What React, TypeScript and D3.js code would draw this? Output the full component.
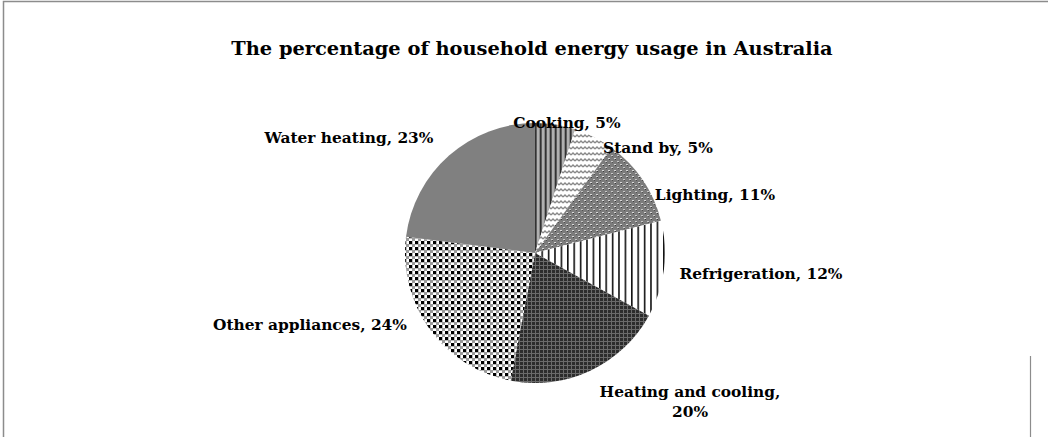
import React from "react";
import * as d3 from "d3";

const title = "The percentage of household energy usage in Australia";
const categories = ["Cooking", "Stand by", "Lighting", "Refrigeration", "Heating and cooling", "Other appliances", "Water heating"];
const values = [5, 5, 11, 12, 20, 24, 23];
const patternIds = ["pCook", "pStand", "pLight", "pFridge", "pHeat", "pOther", "pWater"];
// label centre offsets relative to pie centre (layout only)
const labelOffsets: [number, number][] = [
  [32, -131], [123, -106], [180, -59], [226, 20], [155, 149], [-225, 71], [-186, -116],
];

const W = 1048;
const H = 437;
const cx = 535;
const cy = 253;
const R = 130;

export default function App() {
  const pie = d3.pie<number>().sort(null).startAngle(0).endAngle(2 * Math.PI)(values);
  const arc = d3.arc<d3.PieArcDatum<number>>().innerRadius(0).outerRadius(R);
  const font = "'DejaVu Serif', serif";
  const fs = 15.4;
  return (
    <svg width={W} height={H} style={{ position: "absolute", left: 0, top: 0 }}>
      <defs>
        <pattern id="pCook" width={5} height={5} patternUnits="userSpaceOnUse">
          <rect width={5} height={5} fill="#888" />
          <rect x={0} width={1.5} height={5} fill="#333" />
          <rect x={2.5} width={1} height={5} fill="#d8d8d8" />
        </pattern>
        <pattern id="pStand" width={4} height={6} patternUnits="userSpaceOnUse">
          <rect width={4} height={6} fill="#fff" />
          <path d="M0,4 L2,2 L4,4" stroke="#888" strokeWidth={1.3} fill="none" />
        </pattern>
        <pattern id="pLight" width={6} height={6} patternUnits="userSpaceOnUse">
          <rect width={6} height={6} fill="#7c7c7c" />
          <rect x={1} y={1} width={2} height={1} fill="#d8d8d8" />
          <rect x={2} y={2} width={1} height={1} fill="#3c3c3c" />
          <rect x={4} y={4} width={2} height={1} fill="#c8c8c8" />
          <rect x={5} y={5} width={1} height={1} fill="#505050" />
        </pattern>
        <pattern id="pFridge" width={6.4} height={6} patternUnits="userSpaceOnUse">
          <rect width={6.4} height={6} fill="#fff" />
          <rect x={0} width={1.6} height={6} fill="#111" />
        </pattern>
        <pattern id="pHeat" width={4} height={4} patternUnits="userSpaceOnUse">
          <rect width={4} height={4} fill="#2c2c2c" />
          <rect width={4} height={1} fill="#6a6a6a" />
          <rect width={1} height={4} fill="#6a6a6a" />
        </pattern>
        <pattern id="pOther" width={6} height={6} patternUnits="userSpaceOnUse">
          <rect width={6} height={6} fill="#fff" />
          <rect x={0} y={0} width={3} height={3} fill="#000" />
          <rect x={3} y={3} width={3} height={3} fill="#9a9a9a" />
          <rect x={3} y={0} width={1} height={3} fill="#bbb" />
          <rect x={0} y={3} width={3} height={1} fill="#bbb" />
        </pattern>
        <pattern id="pWater" width={4} height={4} patternUnits="userSpaceOnUse">
          <rect width={4} height={4} fill="#808080" />
        </pattern>
      </defs>
      <rect x={0} y={0} width={W} height={H} fill="#fff" />
      <path d={`M3.5,${H} L3.5,1.5 L${W},1.5`} fill="none" stroke="#8c8c8c" strokeWidth={1.5} />
      <path d={`M1030.5,356 L1030.5,${H}`} fill="none" stroke="#8c8c8c" strokeWidth={1.2} />
      <text x={532} y={55} textAnchor="middle" fontFamily={font} fontWeight="bold" fontSize={19.4} fill="#000">
        {title}
      </text>
      <g transform={`translate(${cx},${cy})`}>
        {pie.map((d, i) => (
          <path key={categories[i]} d={arc(d) || ""} fill={`url(#${patternIds[i]})`} />
        ))}
      </g>
      {pie.map((d, i) => {
        const [dx, dy] = labelOffsets[i];
        const label = `${categories[i]}, ${values[i]}%`;
        if (categories[i] === "Heating and cooling") {
          return (
            <text key={label} x={cx + dx} y={cy + dy - 5} textAnchor="middle" fontFamily={font} fontWeight="bold" fontSize={fs} fill="#000">
              <tspan x={cx + dx} dy={0}>{`${categories[i]},`}</tspan>
              <tspan x={cx + dx} dy={20}>{`${values[i]}%`}</tspan>
            </text>
          );
        }
        return (
          <text key={label} x={cx + dx} y={cy + dy + 5.5} textAnchor="middle" fontFamily={font} fontWeight="bold" fontSize={fs} fill="#000">
            {label}
          </text>
        );
      })}
    </svg>
  );
}
